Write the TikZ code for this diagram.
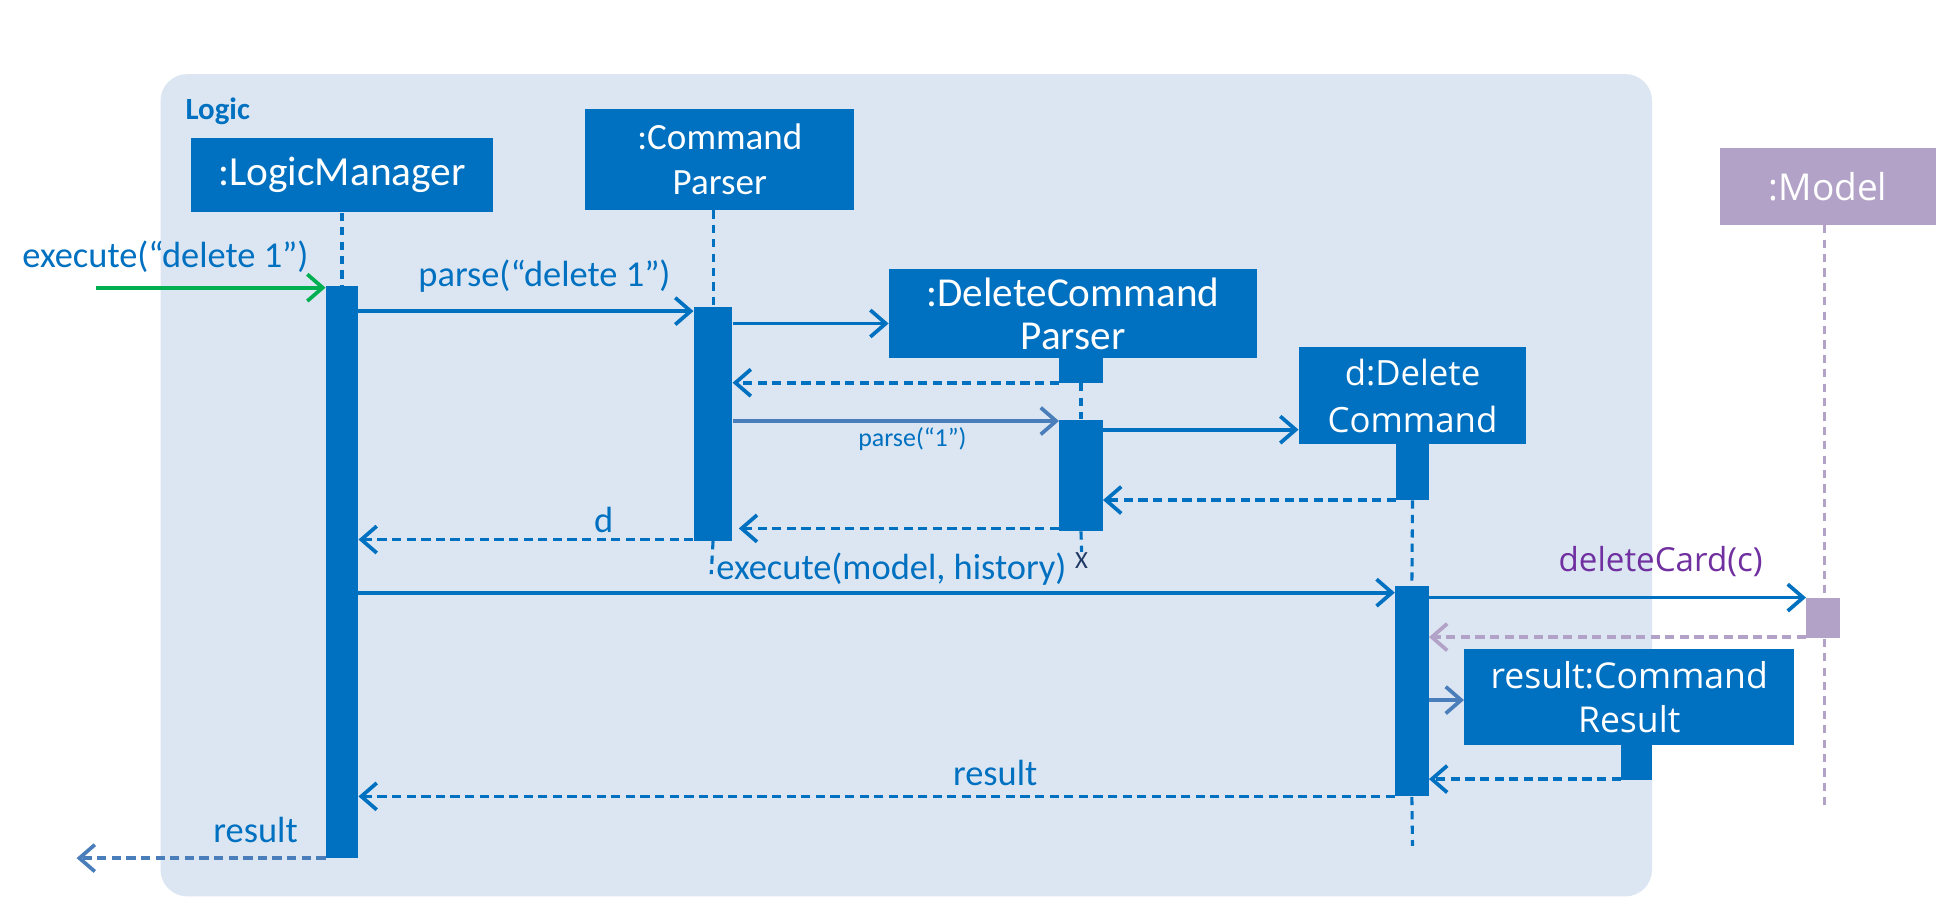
\documentclass[tikz,border=0pt]{standalone}
\usepackage{fontspec}
\setmainfont{Carlito}
\newfontfamily\segoe{Open Sans}
\usepackage{tikz}
\usetikzlibrary{arrows.meta,fit}

\definecolor{boxblue}{HTML}{0070C0}
\definecolor{framebg}{HTML}{DCE6F2}
\definecolor{modelpurple}{HTML}{B3A2C7}
\definecolor{callpurple}{HTML}{7030A0}
\definecolor{callgreen}{HTML}{00B050}
\definecolor{steel}{HTML}{4A7EBB}
\definecolor{navy}{HTML}{1F3864}

\def\px{0.6pt}
\newcommand\fsize[2]{\fontsize{#1}{#2}\selectfont}

\tikzset{
  obj/.style={fill=boxblue, text=white, inner sep=0pt, align=center},
  bar/.style={fill=boxblue, inner sep=0pt},
  life/.style={boxblue, line width=1.5pt, dash pattern=on 4pt off 3pt},
  call/.style={boxblue, line width=1.8pt, -{Straight Barb[length=7.5pt,width=13pt,line width=1.8pt]}},
  ret/.style={call, dash pattern=on 4.5pt off 2.6pt},
  msg/.style={text=boxblue, inner sep=0pt, font=\fsize{17.7}{20}},
}

\begin{document}
\begin{tikzpicture}[x=\px, y=-\px]
  \useasboundingbox[fill=white] (0,0) rectangle (1568,727);
  \fill[framebg, rounded corners=13pt] (130,60) rectangle (1338,726);
  \node[text=boxblue, inner sep=0pt, anchor=west, font=\bfseries\fsize{15}{18}] (logic) at (150,90) {Logic};

  % objects
  \node[obj, minimum width=244*\px, minimum height=60*\px, font=\fsize{20.1}{22}] (lm) at (277,142) {:LogicManager};
  \node[obj, minimum width=218*\px, minimum height=82*\px, font=\fsize{18}{21.6}] (cp) at (583,129) {:Command\\Parser};
  \node[obj, minimum width=298*\px, minimum height=72*\px, font=\fsize{20}{21}] (dcp) at (869,254) {:DeleteCommand\\Parser};
  \node[obj, minimum width=184*\px, minimum height=79*\px, font=\segoe\fsize{16.9}{22.8}] (dc) at (1144,320.5) {d:Delete\\Command};
  \node[obj, minimum width=267*\px, minimum height=77*\px, font=\segoe\fsize{17.3}{21.6}] (cr) at (1319.5,564.5) {result:Command\\Result};
  \node[obj, fill=modelpurple, minimum width=175*\px, minimum height=62*\px, font=\segoe\fsize{18}{20}] (model) at (1480.5,151) {:Model};

  % activation bars
  \node[bar, fit={(264,232) (290,695)}] (lmbar) {};
  \node[bar, fit={(562,249) (593,438)}] (cpbar) {};
  \node[bar, fit={(858,290) (893,310)}] (dcpstub) {};
  \node[bar, fit={(858,340) (893,430)}] (dcpbar) {};
  \node[bar, fit={(1131,360) (1157,405)}] (dcstub) {};
  \node[bar, fit={(1130,475) (1157,645)}] (dcbar) {};
  \node[bar, fill=modelpurple, fit={(1463,484) (1490,517)}] (modelbar) {};
  \node[bar, fit={(1313,603) (1338,632)}] (crstub) {};

  % lifelines
  \coordinate (cpend) at (576,465);
  \coordinate (dcpend) at (876,447);
  \coordinate (dcend) at (1144,685);
  \coordinate (modelend) at (1478,652);
  \draw[life] (lm.south) -- (lmbar.north);
  \draw[life] (cpbar.north |- cp.south) -- (cpbar.north);
  \draw[life] (cpbar.south) -- (cpend);
  \draw[life] (dcpstub.south) -- (dcpbar.north);
  \draw[life] (dcpbar.south) -- (dcpend);
  \node[text=navy, inner sep=0pt, anchor=north, font=\fsize{12}{12}] (kill) at (dcpend) {X};
  \draw[life] (dcstub.south) -- (dcbar.north);
  \draw[life] (dcbar.south) -- (dcend);
  \draw[life, modelpurple] (model.south -| modelend) -- (modelbar.north -| modelend);
  \draw[life, modelpurple] (modelbar.south -| modelend) -- (modelend);

  % messages
  \coordinate (entry) at (78,233);
  \coordinate (exit) at (62,695);
  \coordinate (m1) at (0,252);
  \coordinate (m2) at (0,262);
  \coordinate (m3) at (0,310);
  \coordinate (m4) at (0,341);
  \coordinate (m5) at (0,348);
  \coordinate (m6) at (0,405);
  \coordinate (m7) at (0,428);
  \coordinate (m8) at (0,437);
  \coordinate (m9) at (0,480);
  \coordinate (m10) at (0,484);
  \coordinate (m11) at (0,516);
  \coordinate (m12) at (0,567);
  \coordinate (m13) at (0,631);
  \coordinate (m14) at (0,645);

  \draw[call, callgreen] (entry) -- (entry -| lmbar.west);
  \draw[call] (lmbar.east |- m1) -- (cpbar.west |- m1);
  \draw[call] (cpbar.east |- m2) -- (dcp.west |- m2);
  \draw[ret] (dcpstub.west |- m3) -- (cpbar.east |- m3);
  \draw[call, steel] (cpbar.east |- m4) -- (dcpbar.west |- m4);
  \draw[call] (dcpbar.east |- m5) -- (dc.west |- m5);
  \draw[ret] (dcstub.west |- m6) -- (dcpbar.east |- m6);
  \draw[ret] (dcpbar.west |- m7) -- ([xshift=3pt]cpbar.east |- m7);
  \draw[ret] (cpbar.west |- m8) -- (lmbar.east |- m8);
  \draw[call] (lmbar.east |- m9) -- (dcbar.west |- m9);
  \draw[call] (dcbar.east |- m10) -- (modelbar.west |- m10);
  \draw[ret, modelpurple] (modelbar.west |- m11) -- (dcbar.east |- m11);
  \draw[call, steel] (dcbar.east |- m12) -- (cr.west |- m12);
  \draw[ret] (crstub.west |- m13) -- (dcbar.east |- m13);
  \draw[ret] (dcbar.west |- m14) -- (lmbar.east |- m14);
  \draw[ret, steel] (lmbar.west |- exit) -- (exit);

  % labels
  \node[msg] (l1) at (134,208) {execute(“delete 1”)};
  \node[msg] (l2) at (441,224) {parse(“delete 1”)};
  \node[msg, font=\fsize{12.6}{14}] (l4) at (739,356) {parse(“1”)};
  \node[msg] (l8) at (489,421) {d};
  \node[msg] (l9) at (722,461) {execute(model, history)};
  \node[msg, text=callpurple, font=\segoe\fsize{16.1}{18}] (l10) at (1345,455) {deleteCard(c)};
  \node[msg] (l14) at (806,626) {result};
  \node[msg] (l15) at (207,672) {result};
\end{tikzpicture}
\end{document}
